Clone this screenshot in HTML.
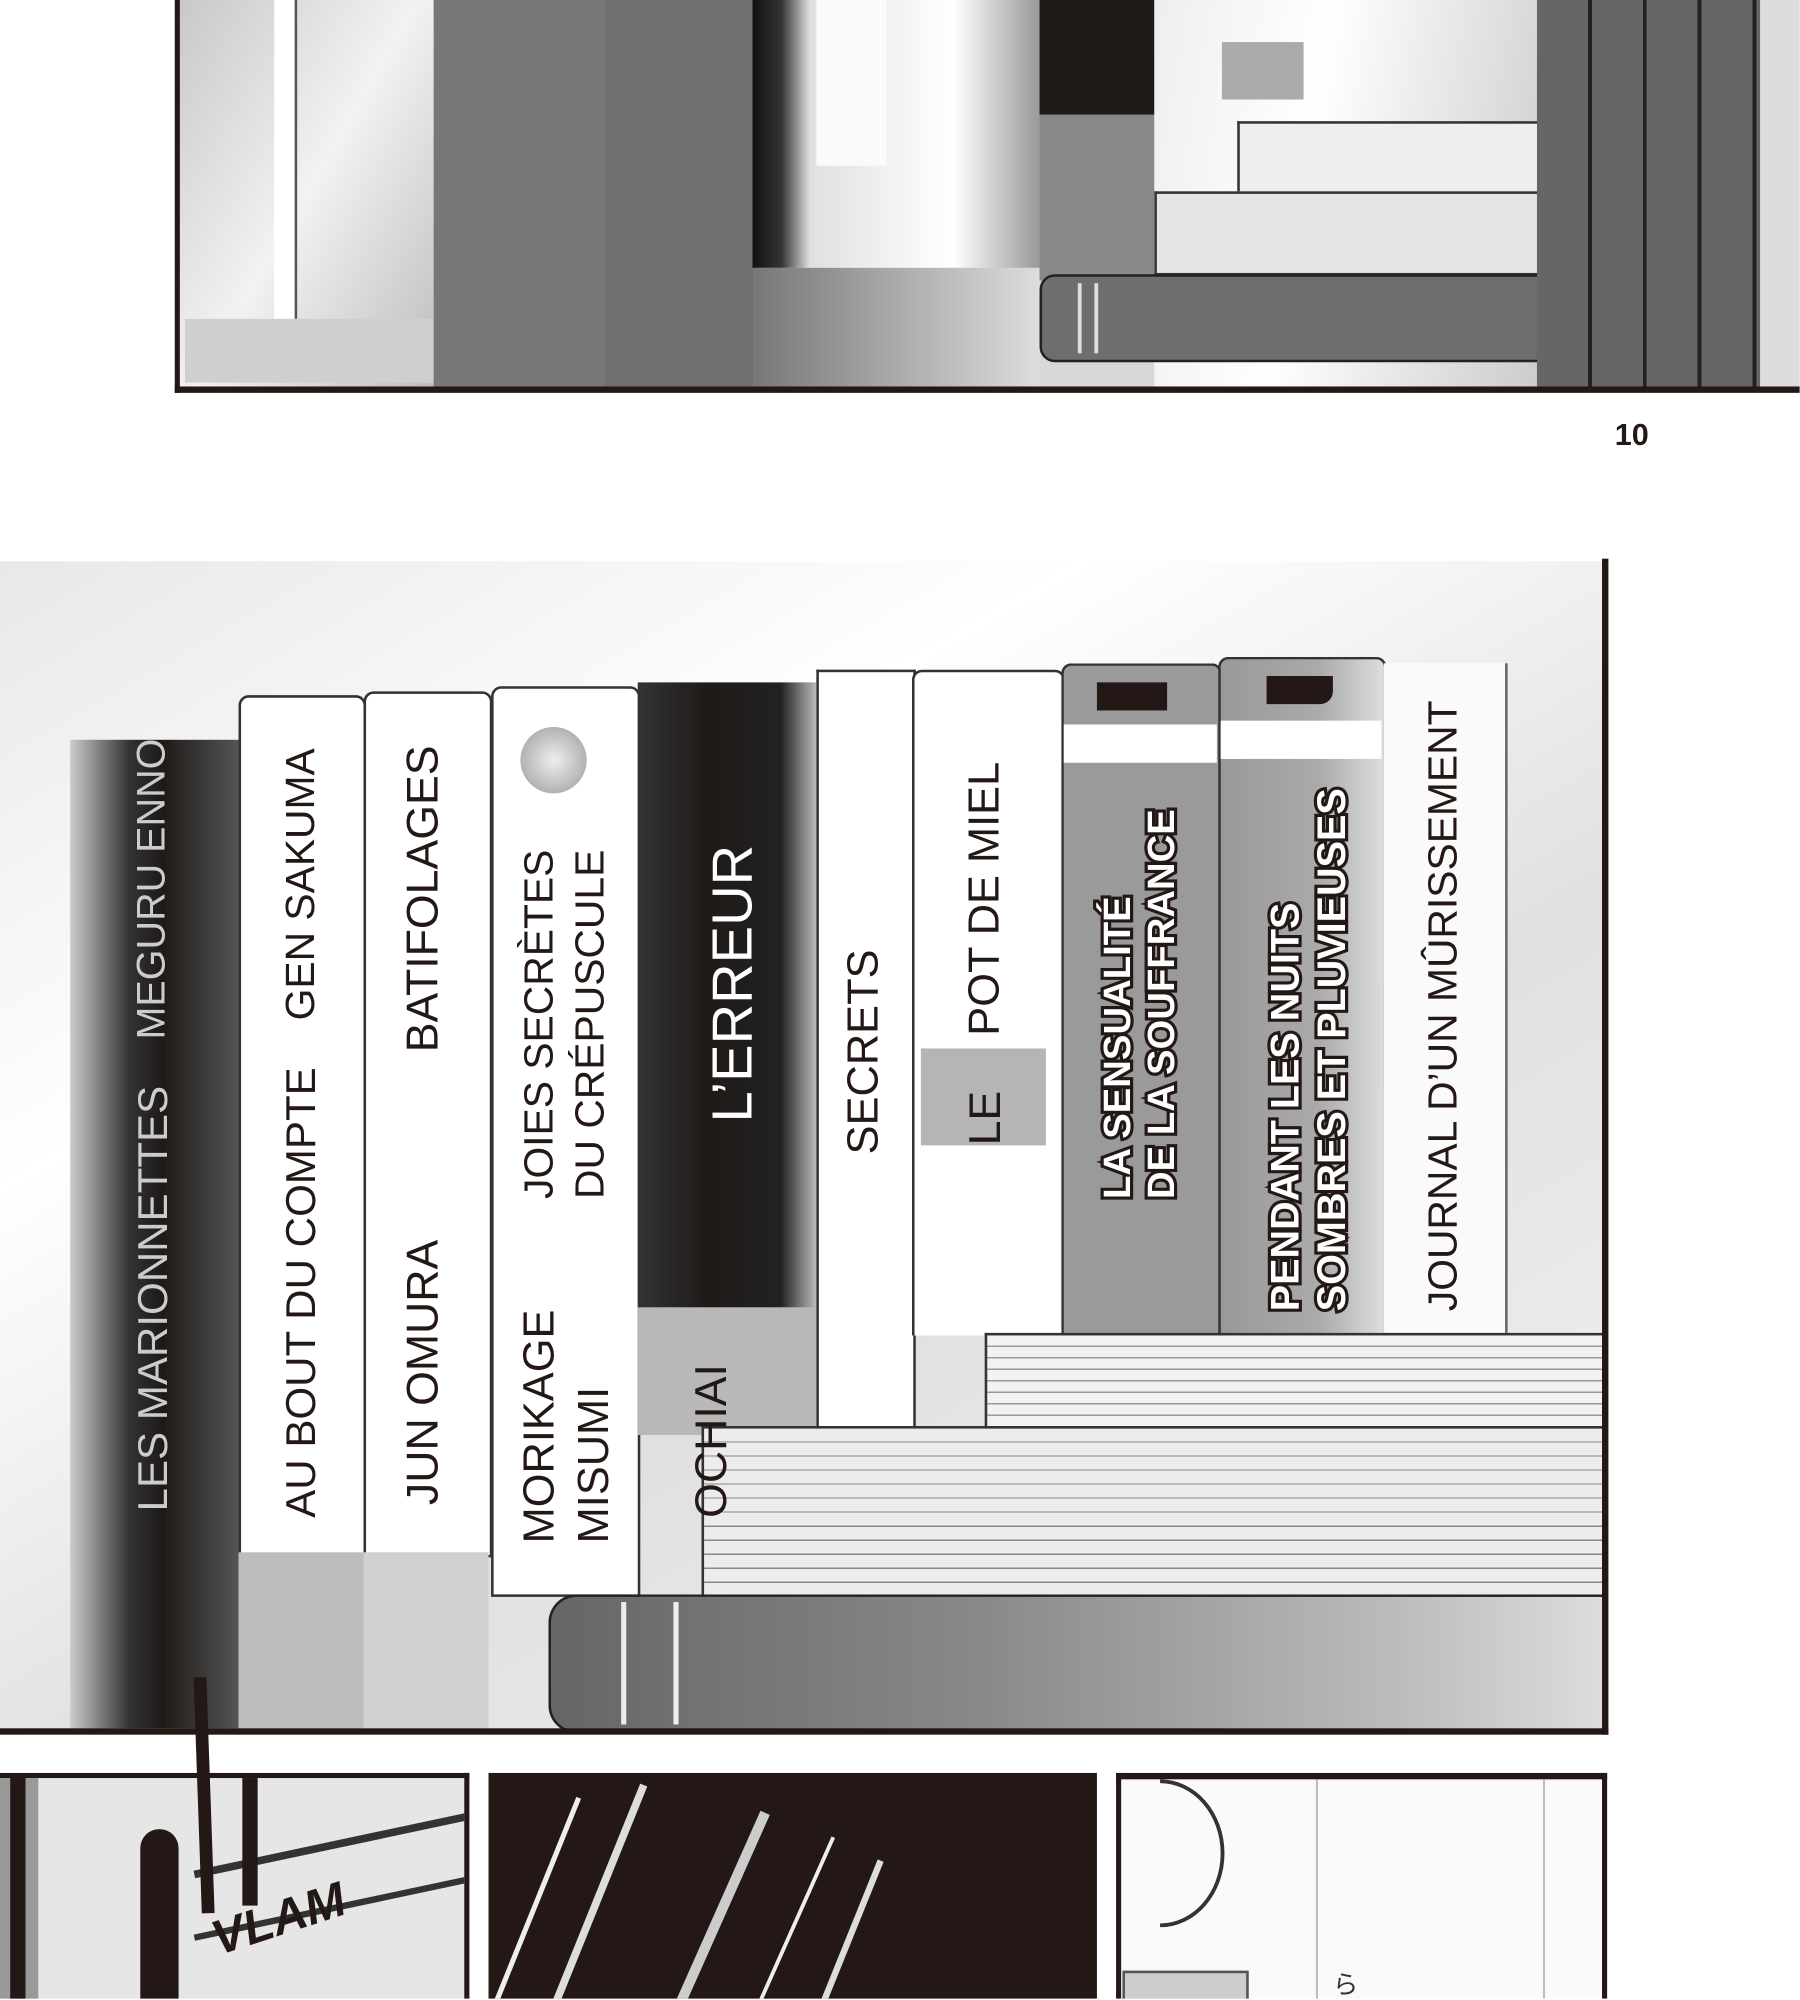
<!DOCTYPE html>
<html><head><meta charset="utf-8"><style>
html,body{margin:0;padding:0;background:#fff;}
body{width:1800px;height:2000px;overflow:hidden;position:relative;}
#w{position:absolute;left:0;top:0;width:1411px;height:1567px;transform:scale(1.2755);transform-origin:0 0;overflow:hidden;}
.a{position:absolute;}
.v{position:absolute;writing-mode:vertical-rl;transform:rotate(180deg);font-family:"Liberation Sans",sans-serif;white-space:nowrap;line-height:1;}
.out{color:#fff;font-weight:bold;-webkit-text-stroke:5px #231815;paint-order:stroke fill;}
</style></head><body><div id="w">
<!-- top panel -->
<div class="a" style="left:140px;top:0;width:1271px;height:305px;background:#d8d8d8;"></div>
<div class="a" style="left:140px;top:0;width:200px;height:305px;background:linear-gradient(120deg,#c8c8c8,#f2f2f2 50%,#bdbdbd);"></div>
<div class="a" style="left:215px;top:0;width:16px;height:250px;background:#fff;border-right:2px solid #555;"></div>
<div class="a" style="left:145px;top:250px;width:195px;height:50px;background:#cfcfcf;"></div>
<div class="a" style="left:340px;top:0;width:135px;height:305px;background:#777;border-right:2px solid #222;"></div>
<div class="a" style="left:475px;top:0;width:115px;height:305px;background:#707070;border-right:2px solid #222;"></div>
<div class="a" style="left:590px;top:0;width:225px;height:210px;background:linear-gradient(90deg,#111 0,#333 10%,#e0e0e0 20%,#fff 70%,#999);"></div>
<div class="a" style="left:640px;top:0;width:55px;height:130px;background:#fafafa;"></div>
<div class="a" style="left:590px;top:210px;width:225px;height:95px;background:linear-gradient(90deg,#777,#ddd);"></div>
<div class="a" style="left:815px;top:0;width:90px;height:90px;background:#1e1a18;"></div>
<div class="a" style="left:815px;top:90px;width:90px;height:130px;background:#888;"></div>
<div class="a" style="left:905px;top:0;width:300px;height:305px;background:linear-gradient(100deg,#eee,#fff 40%,#ccc);"></div>
<div class="a" style="left:958px;top:33px;width:64px;height:45px;background:#aaa;"></div>
<div class="a" style="left:970px;top:95px;width:235px;height:55px;background:#eee;border:2px solid #333;border-right:none;"></div>
<div class="a" style="left:905px;top:150px;width:300px;height:62px;background:#e4e4e4;border:2px solid #333;border-right:none;"></div>
<div class="a" style="left:815px;top:215px;width:390px;height:65px;background:#6e6e6e;border:2px solid #222;border-radius:12px 0 0 12px;"></div>
<div class="a" style="left:845px;top:222px;width:3px;height:55px;background:#ddd;"></div>
<div class="a" style="left:858px;top:222px;width:3px;height:55px;background:#ddd;"></div>
<div class="a" style="left:1205px;top:0;width:175px;height:305px;background:repeating-linear-gradient(90deg,#666 0,#666 40px,#222 40px,#222 43px);"></div>
<div class="a" style="left:1380px;top:0;width:31px;height:305px;background:#ddd;"></div>
<div class="a" style="left:137px;top:0;width:4px;height:308px;background:#231815;"></div>
<div class="a" style="left:137px;top:303px;width:1274px;height:5px;background:#231815;"></div>
<div class="a" style="left:1266px;top:328px;font:bold 24px 'Liberation Sans',sans-serif;color:#231815;">10</div>

<!-- middle panel -->
<div class="a" style="left:0;top:440px;width:1258px;height:918px;background:linear-gradient(150deg,#e8e8e8,#fff 30%,#e0e0e0 60%,#f5f5f5);"></div>
<div class="a" style="left:55px;top:580px;width:132px;height:775px;background:linear-gradient(90deg,#ccc 0,#333 35%,#1e1a18 55%,#555 100%);"></div>
<div class="a" style="left:187px;top:545px;width:96px;height:672px;background:#fff;border:2px solid #333;border-radius:8px 8px 0 0;"></div>
<div class="a" style="left:187px;top:1217px;width:98px;height:138px;background:#bdbdbd;"></div>
<div class="a" style="left:285px;top:542px;width:97px;height:675px;background:#fff;border:2px solid #333;border-radius:8px 8px 0 0;"></div>
<div class="a" style="left:285px;top:1217px;width:98px;height:138px;background:#d0d0d0;"></div>
<div class="a" style="left:385px;top:538px;width:113px;height:710px;background:#fff;border:2px solid #333;border-radius:8px 8px 0 0;"></div>
<div class="a" style="left:408px;top:570px;width:52px;height:52px;border-radius:50%;background:radial-gradient(#eee,#999);"></div>
<div class="a" style="left:500px;top:535px;width:140px;height:490px;background:linear-gradient(90deg,#333,#1e1a18 40%,#222 80%,#bbb);"></div>
<div class="a" style="left:500px;top:1025px;width:140px;height:100px;background:#b8b8b8;"></div>
<div class="a" style="left:640px;top:525px;width:74px;height:595px;background:#fff;border:2px solid #333;border-bottom:none;"></div>
<div class="a" style="left:715px;top:525px;width:116px;height:520px;background:#fff;border:2px solid #333;border-bottom:none;border-radius:8px 8px 0 0;"></div>
<div class="a" style="left:722px;top:822px;width:98px;height:76px;background:#b5b5b5;"></div>
<div class="a" style="left:832px;top:520px;width:122px;height:525px;background:#9a9a9a;border:2px solid #333;border-bottom:none;border-radius:8px 8px 0 0;"></div>
<div class="a" style="left:834px;top:568px;width:120px;height:30px;background:#fff;"></div>
<div class="a" style="left:860px;top:535px;width:55px;height:22px;background:#231815;"></div>
<div class="a" style="left:955px;top:515px;width:128px;height:530px;background:linear-gradient(90deg,#999,#aaa 60%,#ddd);border:2px solid #333;border-bottom:none;border-radius:8px 8px 0 0;"></div>
<div class="a" style="left:957px;top:565px;width:126px;height:30px;background:#fff;"></div>
<div class="a" style="left:993px;top:530px;width:52px;height:22px;background:#231815;border-radius:0 0 10px 0;"></div>
<div class="a" style="left:1085px;top:520px;width:95px;height:525px;background:#fafafa;border-right:2px solid #666;"></div>
<div class="a" style="left:772px;top:1045px;width:484px;height:72px;background:repeating-linear-gradient(180deg,#f2f2f2 0,#f2f2f2 8px,#999 8px,#999 9px);border:2px solid #333;border-right:none;"></div>
<div class="a" style="left:550px;top:1118px;width:706px;height:132px;background:repeating-linear-gradient(180deg,#ececec 0,#ececec 10px,#888 10px,#888 11px);border:2px solid #333;border-right:none;"></div>
<div class="a" style="left:430px;top:1250px;width:826px;height:105px;background:linear-gradient(90deg,#666,#888 40%,#bbb 80%,#ddd);border:2px solid #222;border-right:none;border-radius:22px 0 0 22px;"></div>
<div class="a" style="left:487px;top:1256px;width:4px;height:96px;background:#eee;"></div>
<div class="a" style="left:528px;top:1256px;width:4px;height:96px;background:#eee;"></div>
<!-- spine text -->
<div class="v" style="left:103px;top:850px;height:335px;font-size:33px;color:#ccc;">LES MARIONNETTES</div>
<div class="v" style="left:103px;top:575px;height:240px;font-size:31px;color:#ccc;">MEGURU ENNO</div>
<div class="v" style="left:219px;top:855px;height:335px;font-size:33px;color:#231815;">AU BOUT DU COMPTE</div>
<div class="v" style="left:219px;top:585px;height:215px;font-size:32px;color:#231815;">GEN SAKUMA</div>
<div class="v" style="left:314px;top:965px;height:215px;font-size:35px;color:#231815;">JUN OMURA</div>
<div class="v" style="left:314px;top:585px;height:240px;font-size:35px;color:#231815;">BATIFOLAGES</div>
<div class="v" style="left:402px;top:1020px;height:190px;font-size:34px;color:#231815;line-height:1.25;">MORIKAGE<br>MISUMI</div>
<div class="v" style="left:402px;top:660px;height:280px;font-size:32px;color:#231815;line-height:1.25;">JOIES SECRÈTES<br>DU CRÉPUSCULE</div>
<div class="v" style="left:553px;top:670px;height:210px;font-size:44px;color:#fff;">L’ERREUR</div>
<div class="v" style="left:540px;top:1065px;height:125px;font-size:35px;color:#231815;">OCHIAI</div>
<div class="v" style="left:660px;top:740px;height:165px;font-size:34px;color:#231815;">SECRETS</div>
<div class="v" style="left:755px;top:830px;height:68px;font-size:35px;color:#231815;">LE</div>
<div class="v" style="left:755px;top:590px;height:222px;font-size:34px;color:#231815;">POT DE MIEL</div>
<div class="v out" style="left:860px;top:655px;height:285px;font-size:30px;line-height:1.15;">LA SENSUALITÉ<br>DE LA SOUFFRANCE</div>
<div class="v out" style="left:990px;top:610px;height:418px;font-size:31px;line-height:1.18;">PENDANT LES NUITS<br>SOMBRES ET PLUVIEUSES</div>
<div class="v" style="left:1115px;top:545px;height:483px;font-size:32px;color:#231815;">JOURNAL D’UN MÛRISSEMENT</div>
<div class="a" style="left:1256px;top:438px;width:5px;height:922px;background:#231815;"></div>
<div class="a" style="left:0;top:1355px;width:1261px;height:5px;background:#231815;"></div>

<!-- bottom panels -->
<div class="a" style="left:0;top:1390px;width:368px;height:177px;background:#e6e6e6;border-top:4px solid #231815;border-right:4px solid #231815;box-sizing:border-box;overflow:hidden;">
<div class="a" style="left:0;top:0;width:30px;height:174px;background:#999;"></div>
<div class="a" style="left:150px;top:50px;width:218px;height:6px;background:#333;transform:rotate(-12deg);"></div>
<div class="a" style="left:150px;top:100px;width:218px;height:5px;background:#333;transform:rotate(-12deg);"></div>
<div class="a" style="left:8px;top:-10px;width:12px;height:188px;background:#231815;border-radius:6px;"></div>
<div class="a" style="left:110px;top:40px;width:30px;height:138px;background:#231815;border-radius:15px 15px 0 0;"></div>
<div class="a" style="left:190px;top:0;width:12px;height:100px;background:#231815;"></div>
<div class="a" style="left:165px;top:90px;font:bold italic 38px 'Liberation Sans',sans-serif;color:#231815;transform:rotate(-18deg);">VLAM</div>
</div>
<div class="a" style="left:155px;top:1315px;width:10px;height:185px;background:#231815;transform:rotate(-2deg);"></div>
<div class="a" style="left:383px;top:1390px;width:477px;height:177px;background:#231815;overflow:hidden;">
<div class="a" style="left:20px;top:10px;width:4px;height:260px;background:#eee;transform:rotate(22deg);"></div>
<div class="a" style="left:70px;top:0;width:6px;height:260px;background:#ddd;transform:rotate(22deg);"></div>
<div class="a" style="left:160px;top:20px;width:8px;height:260px;background:#ccc;transform:rotate(24deg);"></div>
<div class="a" style="left:220px;top:40px;width:3px;height:240px;background:#eee;transform:rotate(24deg);"></div>
<div class="a" style="left:260px;top:60px;width:5px;height:240px;background:#ddd;transform:rotate(22deg);"></div>
</div>
<div class="a" style="left:875px;top:1390px;width:385px;height:177px;background:#fafafa;border-top:5px solid #231815;border-left:4px solid #231815;border-right:4px solid #231815;box-sizing:border-box;overflow:hidden;">
<div class="a" style="left:-20px;top:0;width:95px;height:110px;border:3px solid #333;border-radius:50%;clip-path:inset(0 0 0 50%);"></div>
<div class="a" style="left:153px;top:0;width:1px;height:173px;background:#999;"></div>
<div class="a" style="left:331px;top:0;width:1px;height:173px;background:#999;"></div>
<div class="a" style="left:1px;top:150px;width:95px;height:23px;background:#ccc;border:2px solid #555;"></div>
<div class="a" style="left:166px;top:145px;font:20px 'Liberation Sans',sans-serif;color:#333;">ら</div>
</div>
</div></body></html>
